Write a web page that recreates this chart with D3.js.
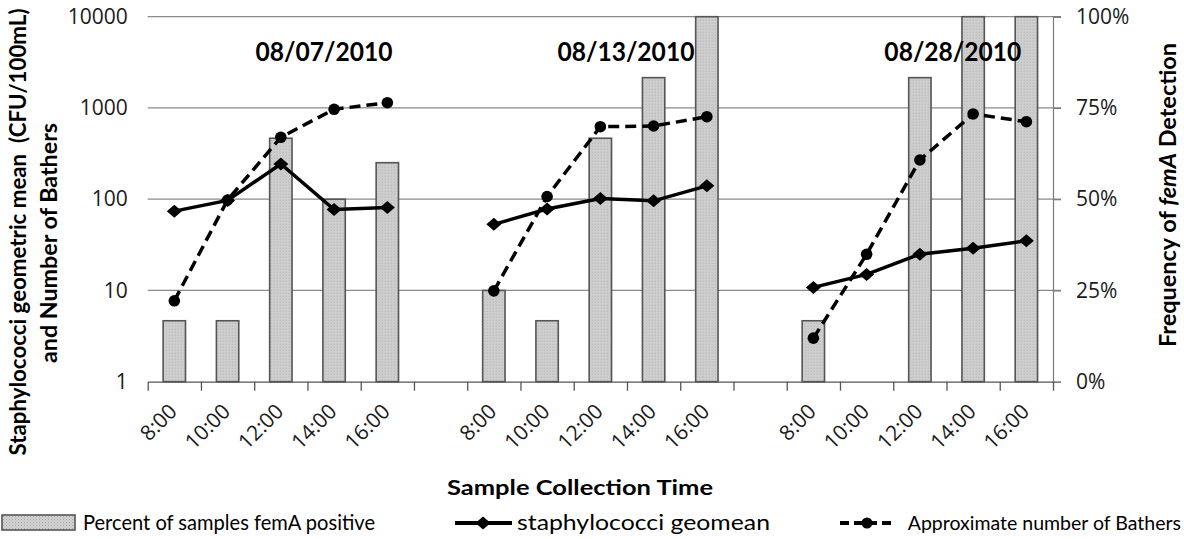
<!DOCTYPE html>
<html>
<head>
<meta charset="utf-8">
<script src="https://cdn.jsdelivr.net/npm/d3@7"></script>
<style>
  body { margin: 0; background: #fff; }
  svg { display: block; }
  .tick text { font-family: "Open Sans", sans-serif; font-size: 21px; fill: #1a1a1a; }
  .title { font-family: Lato, "Open Sans", sans-serif; font-weight: bold; fill: #000; white-space: pre; }
  .legend text { font-family: Lato, "Open Sans", sans-serif; font-size: 21px; fill: #000; }
</style>
</head>
<body>
<script>
// sample times, blank slots separate the three days
const times = ['8:00', '10:00', '12:00', '14:00', '16:00', '',
  '8:00', '10:00', '12:00', '14:00', '16:00', '',
  '8:00', '10:00', '12:00', '14:00', '16:00'];
const dates = ['08/07/2010', '08/13/2010', '08/28/2010'];
// where each date label sits, in category units
const datePos = [3.31, 8.98, 15.12];

// percent of samples femA positive (right axis)
const femA = [16.7, 16.7, 66.7, 50, 60, null,
  25, 16.7, 66.7, 83.3, 100, null,
  16.7, 0, 83.3, 100, 100];
// staphylococci geomean, CFU/100mL (left axis, log)
const geomean = [74, 97, 243, 77, 81, null,
  53, 78, 102, 96, 140, null,
  10.8, 15, 25, 29, 35];
// approximate number of bathers (left axis, log)
const bathers = [7.7, 98, 477, 967, 1142, null,
  9.9, 107, 623, 634, 802, null,
  3.0, 24.9, 269, 859, 707];

const leftTicks = [1, 10, 100, 1000, 10000];
const rightTicks = [0, 25, 50, 75, 100];

const width = 1184;
const height = 539;
const margin = { top: 16.7, right: 131, bottom: 157.3, left: 147.7 };
const plotW = width - margin.left - margin.right;
const plotH = height - margin.top - margin.bottom;

const svg = d3.select('body').append('svg')
  .attr('width', width)
  .attr('height', height);

const defs = svg.append('defs');
const pat = defs.append('pattern')
  .attr('id', 'stipple')
  .attr('width', 3).attr('height', 3)
  .attr('patternUnits', 'userSpaceOnUse');
pat.append('rect').attr('width', 3).attr('height', 3).attr('fill', '#d2d2d2');
pat.append('rect').attr('width', 1).attr('height', 1).attr('fill', '#a8a8a8');
pat.append('rect').attr('x', 1.5).attr('y', 1.5).attr('width', 1).attr('height', 1).attr('fill', '#b8b8b8');

const g = svg.append('g').attr('transform', `translate(${margin.left},${margin.top})`);

const idx = d3.range(times.length);
const x = d3.scaleBand().domain(idx).range([0, plotW]);
const catX = d3.scaleLinear().domain([0, times.length]).range([0, plotW]);
const yLog = d3.scaleLog().domain([1, 10000]).range([plotH, 0]);
const yPct = d3.scaleLinear().domain([0, 100]).range([plotH, 0]);

// horizontal gridlines
g.append('g')
  .selectAll('line')
  .data(leftTicks.slice(1))
  .join('line')
  .attr('x1', 0)
  .attr('x2', plotW + 8)
  .attr('y1', d => yLog(d))
  .attr('y2', d => yLog(d))
  .attr('stroke', '#8a8a8a')
  .attr('stroke-width', 1.2);

// left axis: labels only
const yAxisL = d3.axisLeft(yLog)
  .tickValues(leftTicks)
  .tickFormat(d3.format('d'))
  .tickSize(0)
  .tickPadding(20);
g.append('g').call(yAxisL).call(a => a.select('.domain').remove());

// right axis
const yAxisR = d3.axisRight(yPct)
  .tickValues(rightTicks)
  .tickFormat(d => d + '%')
  .tickSize(8)
  .tickPadding(15);
g.append('g')
  .attr('transform', `translate(${plotW},0)`)
  .call(yAxisR)
  .call(a => a.select('.domain').attr('stroke', '#7a7a7a').attr('stroke-width', 1.2))
  .call(a => a.selectAll('.tick line').attr('stroke', '#7a7a7a').attr('stroke-width', 1.2));

// bottom axis: ticks on category boundaries
const xAxis = d3.axisBottom(catX)
  .tickValues(d3.range(times.length + 1))
  .tickFormat('')
  .tickSize(9)
  .tickSizeOuter(0);
g.append('g')
  .attr('transform', `translate(0,${plotH})`)
  .call(xAxis)
  .call(a => a.selectAll('path, line').attr('stroke', '#555').attr('stroke-width', 1.3));

g.append('g')
  .selectAll('text')
  .data(idx.filter(i => times[i] !== ''))
  .join('text')
  .attr('transform', i => `translate(${x(i) + x.bandwidth() / 2 + 4},${plotH + 31}) rotate(-45)`)
  .attr('text-anchor', 'end')
  .style('font-family', '"Open Sans", sans-serif')
  .style('font-size', '21px')
  .style('fill', '#1a1a1a')
  .text(i => times[i]);

// bars
const barW = x.bandwidth() * 0.42;
g.append('g')
  .selectAll('rect')
  .data(idx.filter(i => femA[i] != null && femA[i] > 0))
  .join('rect')
  .attr('x', i => x(i) + (x.bandwidth() - barW) / 2)
  .attr('y', i => yPct(femA[i]))
  .attr('width', barW)
  .attr('height', i => plotH - yPct(femA[i]))
  .attr('fill', 'url(#stipple)')
  .attr('stroke', '#555')
  .attr('stroke-width', 1.6);

const cx = i => x(i) + x.bandwidth() / 2;
const diamond = 'M0,-6.5L7.5,0L0,6.5L-7.5,0Z';

const line = vals => d3.line()
  .defined(i => vals[i] != null)
  .x(cx)
  .y(i => yLog(vals[i]))(idx);

g.append('path')
  .attr('d', line(bathers))
  .attr('fill', 'none')
  .attr('stroke', '#000')
  .attr('stroke-width', 3.5)
  .attr('stroke-dasharray', '11,6');

g.append('path')
  .attr('d', line(geomean))
  .attr('fill', 'none')
  .attr('stroke', '#000')
  .attr('stroke-width', 3.5);

g.append('g')
  .selectAll('path')
  .data(idx.filter(i => geomean[i] != null))
  .join('path')
  .attr('d', diamond)
  .attr('transform', i => `translate(${cx(i)},${yLog(geomean[i])})`)
  .attr('fill', '#000');

g.append('g')
  .selectAll('circle')
  .data(idx.filter(i => bathers[i] != null))
  .join('circle')
  .attr('cx', cx)
  .attr('cy', i => yLog(bathers[i]))
  .attr('r', 5.8)
  .attr('fill', '#000');

// day labels
g.append('g')
  .selectAll('text')
  .data(dates)
  .join('text')
  .attr('class', 'title')
  .attr('x', (d, i) => catX(datePos[i]))
  .attr('y', 44)
  .attr('text-anchor', 'middle')
  .attr('font-size', 26)
  .attr('textLength', 137)
  .attr('lengthAdjust', 'spacingAndGlyphs')
  .text(d => d);

// axis titles
svg.append('text')
  .attr('class', 'title')
  .attr('transform', 'translate(26,232) rotate(-90)')
  .attr('text-anchor', 'middle')
  .attr('font-size', 22)
  .attr('textLength', 447)
  .attr('lengthAdjust', 'spacingAndGlyphs')
  .text('Staphylococci geometric mean  (CFU/100mL)');

svg.append('text')
  .attr('class', 'title')
  .attr('transform', 'translate(57,243) rotate(-90)')
  .attr('text-anchor', 'middle')
  .attr('font-size', 22)
  .attr('textLength', 240)
  .attr('lengthAdjust', 'spacingAndGlyphs')
  .text('and Number of Bathers');

const rt = svg.append('text')
  .attr('class', 'title')
  .attr('transform', 'translate(1176,195) rotate(-90)')
  .attr('text-anchor', 'middle')
  .attr('font-size', 22)
  .attr('textLength', 304)
  .attr('lengthAdjust', 'spacingAndGlyphs');
rt.append('tspan').text('Frequency of ');
rt.append('tspan').attr('font-style', 'italic').text('femA');
rt.append('tspan').text(' Detection');

svg.append('text')
  .attr('class', 'title')
  .attr('x', 580)
  .attr('y', 495)
  .attr('text-anchor', 'middle')
  .attr('font-size', 21)
  .attr('textLength', 266)
  .attr('lengthAdjust', 'spacingAndGlyphs')
  .text('Sample Collection Time');

// legend
const legend = svg.append('g').attr('class', 'legend');
legend.append('rect')
  .attr('x', 2).attr('y', 515)
  .attr('width', 73).attr('height', 15)
  .attr('fill', 'url(#stipple)')
  .attr('stroke', '#555')
  .attr('stroke-width', 1.6);
legend.append('text')
  .attr('x', 83).attr('y', 530)
  .attr('textLength', 292)
  .attr('lengthAdjust', 'spacingAndGlyphs')
  .text('Percent of samples femA positive');

legend.append('line')
  .attr('x1', 455).attr('x2', 512)
  .attr('y1', 523).attr('y2', 523)
  .attr('stroke', '#000').attr('stroke-width', 4);
legend.append('path')
  .attr('d', diamond)
  .attr('transform', 'translate(483,523)')
  .attr('fill', '#000');
legend.append('text')
  .attr('x', 517).attr('y', 530)
  .attr('textLength', 253)
  .attr('lengthAdjust', 'spacingAndGlyphs')
  .text('staphylococci geomean');

legend.append('line')
  .attr('x1', 840).attr('x2', 896)
  .attr('y1', 523).attr('y2', 523)
  .attr('stroke', '#000').attr('stroke-width', 4)
  .attr('stroke-dasharray', '9,5');
legend.append('circle')
  .attr('cx', 867).attr('cy', 523).attr('r', 5.5)
  .attr('fill', '#000');
legend.append('text')
  .attr('x', 1181).attr('y', 530)
  .attr('text-anchor', 'end')
  .style('font-size', '19.5px')
  .text('Approximate number of Bathers');
</script>
</body>
</html>
